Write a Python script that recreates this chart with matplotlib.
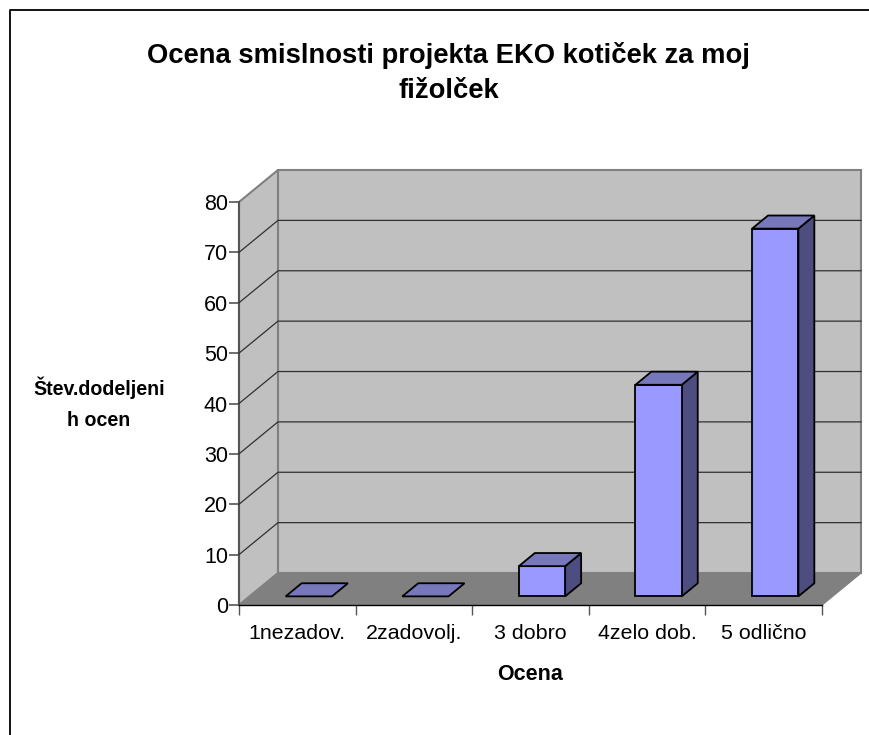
import matplotlib
matplotlib.use("Agg")
import matplotlib.pyplot as plt
from matplotlib.patches import Polygon

plt.rcParams['font.family'] = ['Liberation Sans', 'DejaVu Sans']

categories = ["1nezadov.", "2zadovolj.", "3 dobro", "4zelo dob.", "5 odlično"]
values = [0, 0, 6, 42, 73]
yticks = [0, 10, 20, 30, 40, 50, 60, 70, 80]

W, H = 869, 735

# how far the back wall sits from the front plane, in data units
depth_x = 39 / 116.7
depth_y = 32 / 5.04

fig = plt.figure(figsize=(W / 100, H / 100), dpi=100)
fig.patch.set_facecolor("white")

# outer chart border, only left and top show in the crop
fig.add_artist(plt.Line2D([9.5 / W, 9.5 / W, 1], [0, 1 - 10 / H, 1 - 10 / H], color="black", lw=1.3))

# axes = front plane of the 3d box
ax = fig.add_axes([239 / W, 1 - 605 / H, (822 - 239) / W, (605 - 202) / H])
ax.set_xlim(0, 5)
ax.set_ylim(0, 80)
ax.patch.set_visible(False)
for s in ["top", "right", "left"]:
    ax.spines[s].set_visible(False)
ax.spines["bottom"].set_color("black")
ax.spines["bottom"].set_linewidth(1)


def poly(pts, face, edge, lw, z):
    ax.add_patch(Polygon(pts, closed=True, facecolor=face, edgecolor=edge, lw=lw, zorder=z, clip_on=False, joinstyle="miter"))


# walls and floor
poly([(0, 0), (depth_x, depth_y), (5 + depth_x, depth_y), (5, 0)], "#808080", "none", 0, 1)
poly([(depth_x, depth_y), (5 + depth_x, depth_y), (5 + depth_x, 80 + depth_y), (depth_x, 80 + depth_y)], "#c0c0c0", "#808080", 1.5, 1)
poly([(0, 0), (depth_x, depth_y), (depth_x, 80 + depth_y), (0, 80)], "#c0c0c0", "#808080", 1.5, 1)
ax.plot([5, 5 + depth_x], [0, depth_y], color="#808080", lw=1, zorder=1, clip_on=False)
ax.plot([0, 0], [0, 80], color="#555555", lw=1.5, zorder=2, clip_on=False)

# gridlines along left wall and back wall
for v in yticks[1:-1]:
    ax.plot([0, depth_x, 5 + depth_x], [v, v + depth_y, v + depth_y], color="#303030", lw=0.9, zorder=2, clip_on=False)

# bars
bar_w = 0.397
for i, v in enumerate(values):
    x0 = i + 0.31 + 0.27 * depth_x
    y0 = 0.27 * depth_y
    dx = 0.41 * depth_x
    dy = 0.41 * depth_y
    x1 = x0 + bar_w
    z = 3 + i
    if v > 0:
        poly([(x1, y0), (x1 + dx, y0 + dy), (x1 + dx, y0 + dy + v), (x1, y0 + v)], "#4d4d80", "black", 1.3, z)
        poly([(x0, y0), (x1, y0), (x1, y0 + v), (x0, y0 + v)], "#9999ff", "black", 1.3, z)
    poly([(x0, y0 + v), (x1, y0 + v), (x1 + dx, y0 + v + dy), (x0 + dx, y0 + v + dy)], "#7777bb", "black", 1.3, z)

ax.set_yticks(yticks)
ax.set_xticks(range(6))
ax.set_xticklabels([])
ax.tick_params(axis="y", length=7, width=1.2, color="#555555", labelsize=15.5, pad=1, labelcolor="black")
ax.tick_params(axis="x", length=7, width=1, color="#555555")

for i, c in enumerate(categories):
    ax.text(i + 0.5, -5.6, c, ha="center", va="center", fontsize=15.4, color="black", clip_on=False)

fig.text(448.5 / W, 1 - 73 / H, "Ocena smislnosti projekta EKO kotiček za moj\nfižolček", ha="center", va="center",
         fontsize=19.7, fontweight="bold", linespacing=1.42)
fig.text(530 / W, 1 - 675 / H, "Ocena", ha="center", va="center", fontsize=15.5, fontweight="bold")
fig.text(99 / W, 1 - 403 / H, "Štev.dodeljeni\nh ocen", ha="center", va="center", fontsize=14.1, fontweight="bold", linespacing=1.8)

fig.savefig("out.png", dpi=100)
